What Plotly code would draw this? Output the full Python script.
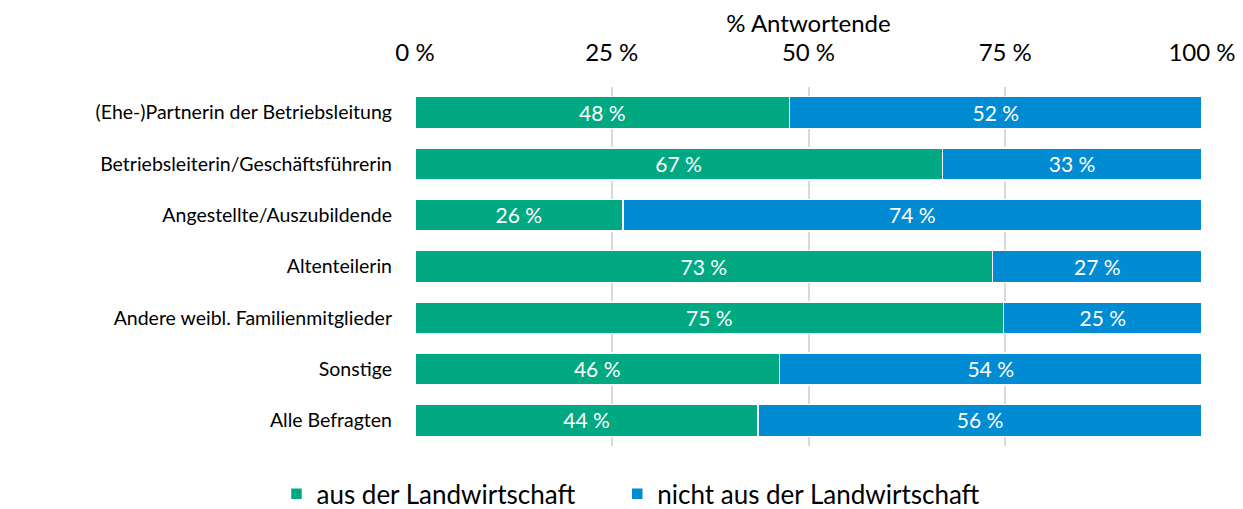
import plotly.graph_objects as go

categories = [
    "(Ehe-)Partnerin der Betriebsleitung",
    "Betriebsleiterin/Geschäftsführerin",
    "Angestellte/Auszubildende",
    "Altenteilerin",
    "Andere weibl. Familienmitglieder",
    "Sonstige",
    "Alle Befragten",
]
aus_landwirtschaft = [47.6, 67.0, 26.4, 73.4, 74.8, 46.3, 43.6]
nicht_aus_landwirtschaft = [52.4, 33.0, 73.6, 26.6, 25.2, 53.7, 56.4]
series_names = ["aus der Landwirtschaft", "nicht aus der Landwirtschaft"]
tick_vals = [0, 25, 50, 75, 100]
tick_text = ["0 %", "25 %", "50 %", "75 %", "100 %"]

FONT = "Lato"
colors = ["#00A982", "#008BD3"]
legends = ["legend", "legend2"]

fig = go.Figure()
for name, vals, col, lg in zip(series_names, [aus_landwirtschaft, nicht_aus_landwirtschaft], colors, legends):
    fig.add_trace(go.Bar(
        y=categories, x=vals, name=name, orientation="h",
        marker=dict(color=col, line=dict(color="white", width=1.5)),
        text=[f"{round(v)} %" for v in vals],
        textposition="inside", insidetextanchor="middle",
        textfont=dict(color="white", size=22, family=FONT),
        hoverinfo="skip", legend=lg,
    ))

legend_style = dict(orientation="h", xanchor="left", y=-0.068, yanchor="top",
                    font=dict(size=26), itemwidth=30, bgcolor="rgba(0,0,0,0)")

# page body has an 8px default margin; compensate so the figure lands as in the reference
fig.update_layout(
    barmode="stack",
    bargap=0.38,
    width=1235, height=501,
    margin=dict(l=407, r=41, t=79, b=63, autoexpand=False),
    paper_bgcolor="white", plot_bgcolor="white",
    font=dict(family=FONT, size=19, color="#000000"),
    xaxis=dict(
        side="top", range=[0, 100], tickvals=tick_vals, ticktext=tick_text,
        showgrid=True, gridcolor="#D9D9D9", gridwidth=1.5, zeroline=False,
        title=dict(text="% Antwortende", standoff=3, font=dict(size=24)),
        tickfont=dict(size=24), ticks="", ticklabelstandoff=20,
        automargin=False, fixedrange=True,
    ),
    yaxis=dict(
        autorange="reversed", showgrid=False, ticks="", ticklen=0,
        tickfont=dict(size=19.5), ticklabelstandoff=22,
        automargin=False, fixedrange=True,
    ),
    legend=dict(x=-0.176, **legend_style),
    legend2=dict(x=0.257, **legend_style),
    showlegend=True,
)

fig.write_html("out.html")
